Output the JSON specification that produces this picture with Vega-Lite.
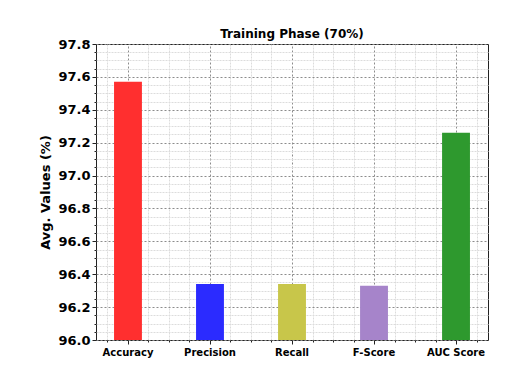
{
  "$schema": "https://vega.github.io/schema/vega-lite/v6.json",
  "width": 392,
  "height": 296,
  "autosize": "none",
  "padding": {"left": 96, "top": 44, "right": 40, "bottom": 38},
  "background": "white",
  "title": {"text": "Training Phase (70%)", "font": "DejaVu Sans", "fontSize": 12, "fontWeight": "bold", "color": "black", "offset": -3},
  "config": {"view": {"stroke": "#222", "strokeWidth": 1}, "font": "DejaVu Sans"},
  "data": {"values": [
    {"metric": "Accuracy", "value": 97.57},
    {"metric": "Precision", "value": 96.34},
    {"metric": "Recall", "value": 96.34},
    {"metric": "F-Score", "value": 96.33},
    {"metric": "AUC Score", "value": 97.26}
  ]},
  "layer": [
    {
      "mark": {"type": "rule", "opacity": 0},
      "encoding": {
        "x": {"datum": 0, "type": "quantitative",
          "scale": {"domain": [-0.39, 4.39], "nice": false, "zero": false},
          "axis": {"orient": "bottom", "title": null, "labels": false, "domain": false,
            "values": [-0.25, 0, 0.25, 0.5, 0.75, 1, 1.25, 1.5, 1.75, 2, 2.25, 2.5, 2.75, 3, 3.25, 3.5, 3.75, 4, 4.25],
            "grid": true,
            "gridColor": {"condition": {"test": "abs(datum.value - round(datum.value)) < 0.01", "value": "#8c8c8c"}, "value": "#dcdcdc"},
            "gridDash": {"condition": {"test": "abs(datum.value - round(datum.value)) < 0.01", "value": [2, 2]}, "value": [2, 1]},
            "gridWidth": 1,
            "tickColor": "#222",
            "tickSize": {"condition": {"test": "abs(datum.value - round(datum.value)) < 0.01", "value": 4}, "value": 2}
          }
        }
      }
    },
    {
      "mark": {"type": "bar", "clip": true},
      "encoding": {
        "x": {"field": "metric", "type": "nominal", "sort": null,
          "scale": {"paddingInner": 0.66, "paddingOuter": 0.22},
          "axis": {"orient": "bottom", "title": null, "grid": false, "ticks": false, "domain": false,
            "labelAngle": 0, "labelFont": "DejaVu Sans", "labelFontSize": 10, "labelFontWeight": "bold", "labelColor": "black", "labelPadding": 7}
        },
        "y": {"field": "value", "type": "quantitative",
          "scale": {"domain": [96, 97.8], "nice": false, "zero": false},
          "axis": {"title": "Avg. Values (%)", "titleFont": "DejaVu Sans", "titleFontSize": 13, "titleFontWeight": "bold", "titleColor": "black", "titlePadding": 5,
            "values": [96, 96.05, 96.1, 96.15, 96.2, 96.25, 96.3, 96.35, 96.4, 96.45, 96.5, 96.55, 96.6, 96.65, 96.7, 96.75, 96.8, 96.85, 96.9, 96.95, 97, 97.05, 97.1, 97.15, 97.2, 97.25, 97.3, 97.35, 97.4, 97.45, 97.5, 97.55, 97.6, 97.65, 97.7, 97.75, 97.8],
            "labelExpr": "abs(datum.value*5 - round(datum.value*5)) < 0.01 ? format(datum.value, '.1f') : ''",
            "labelFont": "DejaVu Sans", "labelFontSize": 13, "labelFontWeight": "bold", "labelColor": "black", "labelPadding": 2,
            "domain": false, "tickColor": "#222",
            "tickSize": {"condition": {"test": "abs(datum.value*5 - round(datum.value*5)) < 0.01", "value": 4}, "value": 2},
            "grid": true,
            "gridColor": {"condition": {"test": "abs(datum.value*5 - round(datum.value*5)) < 0.01", "value": "#8c8c8c"}, "value": "#dcdcdc"},
            "gridDash": {"condition": {"test": "abs(datum.value*5 - round(datum.value*5)) < 0.01", "value": [2, 2]}, "value": [2, 1]},
            "gridWidth": 1,
            "labelOverlap": false
          }
        },
        "color": {"field": "metric", "type": "nominal", "legend": null,
          "scale": {"domain": ["Accuracy", "Precision", "Recall", "F-Score", "AUC Score"],
                    "range": ["#ff2f2f", "#2b2bff", "#c8c64a", "#a684ca", "#2e992e"]}
        }
      }
    }
  ],
  "resolve": {"scale": {"x": "independent"}, "axis": {"x": "independent"}}
}
